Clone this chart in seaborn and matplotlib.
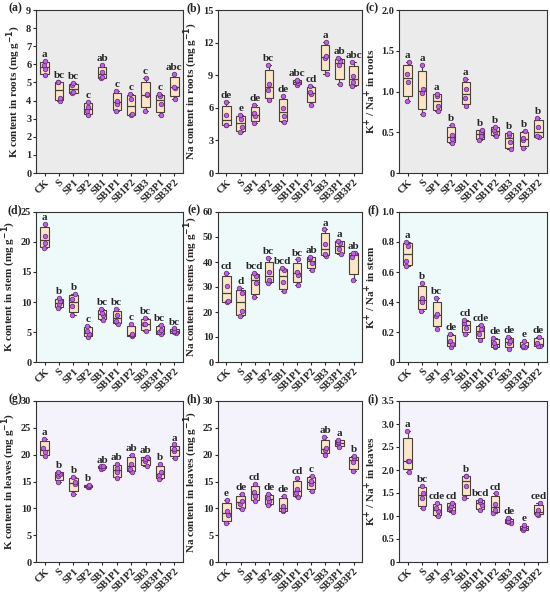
import numpy as np
import pandas as pd
import matplotlib
matplotlib.use("Agg")
import matplotlib.pyplot as plt
import matplotlib.cbook as mcbook
import seaborn as sns

sns.set_style("ticks")
plt.rcParams['font.family'] = ['Liberation Serif', 'DejaVu Serif']
plt.rcParams['font.weight'] = 'bold'
plt.rcParams['axes.labelweight'] = 'bold'
plt.rcParams['mathtext.default'] = 'bf'

# Quartiles computed with the (n+1)p rule, as in the original software
_orig_stats = mcbook.boxplot_stats


def _weibull_stats(X, whis=1.5, bootstrap=None, labels=None, autorange=False):
    out = _orig_stats(X, whis=whis, bootstrap=bootstrap, labels=labels, autorange=autorange)
    for st, x in zip(out, X):
        x = np.asarray(x, dtype=float)
        q1, med, q3 = np.percentile(x, [25, 50, 75], method="weibull")
        st["q1"], st["med"], st["q3"] = q1, med, q3
        st["iqr"] = q3 - q1
        st["whislo"], st["whishi"] = x.min(), x.max()
        st["fliers"] = np.array([])
    return out


mcbook.boxplot_stats = _weibull_stats

groups = ["CK", "S", "SP1", "SP2", "SB1", "SB1P1", "SB1P2", "SB3", "SB3P1", "SB3P2"]

# (a) K content in roots
k_roots = [[5.4, 5.75, 5.95, 6.2], [4.0, 4.15, 5.0, 5.05], [4.4, 4.45, 4.85, 4.95],
           [3.2, 3.4, 3.65, 3.9], [5.25, 5.3, 5.6, 5.95], [3.4, 3.8, 4.0, 4.55],
           [3.2, 3.25, 4.1, 4.35], [3.4, 4.3, 4.35, 5.25], [3.2, 3.8, 4.25, 4.35],
           [4.1, 4.7, 4.75, 5.45]]
k_roots_let = ["a", "bc", "bc", "c", "ab", "c", "c", "c", "c", "abc"]

# (b) Na content in roots
na_roots = [[4.4, 4.45, 5.3, 6.5], [3.8, 4.2, 5.0, 5.3], [4.6, 5.2, 5.5, 6.3],
            [6.7, 7.6, 8.2, 9.9], [4.7, 5.2, 6.0, 7.1], [8.1, 8.3, 8.45, 8.55],
            [6.3, 7.3, 7.5, 8.0], [9.1, 10.6, 10.8, 12.1], [8.2, 9.9, 10.3, 10.6],
            [8.0, 8.4, 8.9, 10.2]]
na_roots_let = ["de", "e", "de", "bc", "de", "abc", "cd", "a", "ab", "abc"]

# (c) K+/Na+ in roots
r_roots = [[0.88, 1.12, 1.22, 1.36], [0.72, 0.98, 1.03, 1.32], [0.76, 0.82, 0.95, 0.97],
           [0.37, 0.42, 0.47, 0.59], [0.82, 0.92, 1.03, 1.15], [0.41, 0.45, 0.50, 0.53],
           [0.46, 0.50, 0.53, 0.57], [0.29, 0.38, 0.47, 0.49], [0.31, 0.41, 0.43, 0.52],
           [0.44, 0.45, 0.56, 0.68]]
r_roots_let = ["a", "a", "a", "b", "a", "b", "b", "b", "b", "b"]

# (d) K content in stem
k_stem = [[19.0, 19.8, 21.0, 23.0], [9.0, 9.6, 10.1, 10.7], [7.9, 9.4, 10.5, 11.3],
          [4.2, 4.6, 5.1, 6.0], [7.0, 7.9, 8.2, 8.9], [6.3, 6.9, 7.9, 8.8],
          [4.3, 4.5, 4.6, 6.4], [5.1, 6.3, 6.4, 7.4], [4.6, 5.0, 5.3, 6.2],
          [4.8, 5.0, 5.2, 5.6]]
k_stem_let = ["a", "b", "b", "c", "bc", "bc", "c", "bc", "bc", "bc"]

# (e) Na content in stems
na_stem = [[24.0, 24.5, 30.5, 35.5], [18.5, 20.5, 27.5, 29.5], [26.0, 31.5, 34.5, 35.5],
           [31.5, 33.0, 36.0, 41.5], [28.5, 32.0, 37.0, 37.5], [31.0, 35.0, 36.0, 41.0],
           [37.0, 39.5, 41.5, 42.0], [42.5, 43.0, 47.0, 53.0], [43.0, 45.0, 47.5, 48.5],
           [33.0, 42.0, 43.5, 43.5]]
na_stem_let = ["cd", "d", "bcd", "bc", "bcd", "bc", "ab", "a", "a", "ab"]

# (f) K+/Na+ in stem
r_stem = [[0.64, 0.67, 0.77, 0.80], [0.34, 0.40, 0.43, 0.53], [0.22, 0.31, 0.32, 0.43],
          [0.10, 0.12, 0.14, 0.19], [0.19, 0.23, 0.26, 0.28], [0.15, 0.19, 0.22, 0.25],
          [0.10, 0.11, 0.13, 0.16], [0.09, 0.13, 0.14, 0.17], [0.10, 0.10, 0.11, 0.14],
          [0.11, 0.11, 0.13, 0.17]]
r_stem_let = ["a", "b", "bc", "de", "cd", "cde", "de", "de", "e", "de"]

# (g) K content in leaves
k_leaf = [[19.7, 20.5, 21.3, 22.9], [15.0, 16.0, 16.4, 16.8], [12.7, 14.5, 14.9, 15.9],
          [13.9, 14.0, 14.2, 14.4], [17.4, 17.6, 17.8, 17.8], [15.6, 16.8, 17.5, 18.3],
          [16.8, 17.3, 18.3, 19.9], [17.8, 18.8, 19.2, 19.6], [15.5, 16.2, 16.7, 18.3],
          [19.4, 20.6, 21.0, 21.9]]
k_leaf_let = ["a", "b", "b", "b", "ab", "ab", "ab", "ab", "b", "a"]

# (h) Na content in leaves
na_leaf = [[7.3, 8.8, 9.5, 11.5], [9.9, 10.9, 11.4, 12.7], [11.3, 12.3, 13.1, 14.6],
           [10.6, 11.4, 12.0, 12.7], [9.5, 9.6, 10.5, 12.3], [12.1, 12.9, 13.6, 15.7],
           [13.2, 14.6, 15.1, 16.1], [20.0, 20.9, 21.3, 23.3], [21.5, 22.1, 22.4, 22.8],
           [17.0, 18.6, 19.4, 19.7]]
na_leaf_let = ["e", "de", "cd", "de", "de", "cd", "c", "ab", "a", "b"]

# (i) K+/Na+ in leaves
r_leaf = [[1.96, 2.2, 2.2, 2.85], [1.17, 1.40, 1.50, 1.66], [0.99, 1.10, 1.17, 1.29],
          [1.08, 1.18, 1.22, 1.29], [1.40, 1.66, 1.86, 1.88], [1.12, 1.25, 1.30, 1.35],
          [1.06, 1.13, 1.27, 1.49], [0.85, 0.86, 0.89, 0.95], [0.69, 0.73, 0.75, 0.80],
          [1.03, 1.05, 1.12, 1.28]]
r_leaf_let = ["a", "bc", "cde", "cd", "b", "bcd", "cd", "de", "e", "ced"]

panels = [
    ("(a)", k_roots, k_roots_let, "K content in roots (mg g$^{-1}$)", (0, 9), np.arange(0, 10, 1), None),
    ("(b)", na_roots, na_roots_let, "Na content in roots (mg g$^{-1}$)", (0, 15), np.arange(0, 16, 3), None),
    ("(c)", r_roots, r_roots_let, "K$^{+}$ / Na$^{+}$ in roots", (0, 2.0), [0, 0.5, 1.0, 1.5, 2.0], ["0", "0.5", "1.0", "1.5", "2.0"]),
    ("(d)", k_stem, k_stem_let, "K content in stem (mg g$^{-1}$)", (0, 25), np.arange(0, 26, 5), None),
    ("(e)", na_stem, na_stem_let, "Na content in stems (mg g$^{-1}$)", (0, 60), np.arange(0, 61, 10), None),
    ("(f)", r_stem, r_stem_let, "K$^{+}$ / Na$^{+}$ in stem", (0, 1.0), [0, 0.2, 0.4, 0.6, 0.8, 1.0], ["0", "0.2", "0.4", "0.6", "0.8", "1.0"]),
    ("(g)", k_leaf, k_leaf_let, "K content in leaves (mg g$^{-1}$)", (0, 30), np.arange(0, 31, 5), None),
    ("(h)", na_leaf, na_leaf_let, "Na content in leaves (mg g$^{-1}$)", (0, 30), np.arange(0, 31, 5), None),
    ("(i)", r_leaf, r_leaf_let, "K$^{+}$ / Na$^{+}$ in leaves", (0, 3.5), [0, 0.5, 1.0, 1.5, 2.0, 2.5, 3.0, 3.5], ["0", "0.5", "1.0", "1.5", "2.0", "2.5", "3.0", "3.5"]),
]

row_bg = ["#ebebeb", "#eef9fa", "#f4f2fb"]
box_fill = "#fce6c8"
box_edge = "#4a4036"
pt_col = "#c45ee3"

W, H = 550, 594
rows_px = [(10, 173), (212, 362), (401, 562)]
cols_px = [(36, 183), (218, 362), (399, 547)]
label_gap = [14, 17, 20]

fig = plt.figure(figsize=(5.5, 5.94), dpi=100)
np.random.seed(3)

for idx, (lab, vals, lets, ylab, ylim, yt, ytl) in enumerate(panels):
    r, c = divmod(idx, 3)
    t, b = rows_px[r]
    l, rr = cols_px[c]
    ax = fig.add_axes([l / W, 1 - b / H, (rr - l) / W, (b - t) / H])
    ax.set_facecolor(row_bg[r])
    df = pd.DataFrame({"group": np.repeat(groups, 4),
                       "value": np.concatenate([np.array(v) for v in vals])})
    sns.boxplot(data=df, x="group", y="value", order=groups, ax=ax, color=box_fill,
                width=0.58, linewidth=0.8, showfliers=False, saturation=1,
                boxprops=dict(edgecolor=box_edge), whiskerprops=dict(color=box_edge),
                capprops=dict(color=box_edge), medianprops=dict(color=box_edge, linewidth=0.9))
    sns.stripplot(data=df, x="group", y="value", order=groups, ax=ax, color=pt_col,
                  size=3.3, jitter=0.1, edgecolor="#5b2a6e", linewidth=0.5, zorder=5)
    span = ylim[1] - ylim[0]
    for i, v in enumerate(vals):
        ax.text(i, max(v) + span * 0.012, lets[i], ha="center", va="bottom",
                fontsize=8, fontweight="bold")
    ax.set_ylim(*ylim)
    ax.set_xlim(-0.6, 9.6)
    ax.set_yticks(yt)
    if ytl is not None:
        ax.set_yticklabels(ytl)
    ax.set_xlabel("")
    ax.set_ylabel(ylab, fontsize=8, fontweight="bold", labelpad=2)
    ax.set_xticks(range(len(groups)))
    ax.set_xticklabels(groups, rotation=45, ha="right", rotation_mode="anchor")
    ax.tick_params(axis="both", labelsize=7.5, direction="out", length=2.2, width=0.8, pad=1.2)
    for s in ax.spines.values():
        s.set_visible(True)
        s.set_linewidth(0.8)
        s.set_color("#333333")
    fig.text((l - label_gap[c]) / W, 1 - (t - 2) / H, lab, fontsize=8.5, fontweight="bold",
             ha="right", va="center")

fig.savefig("out.png", dpi=100)
